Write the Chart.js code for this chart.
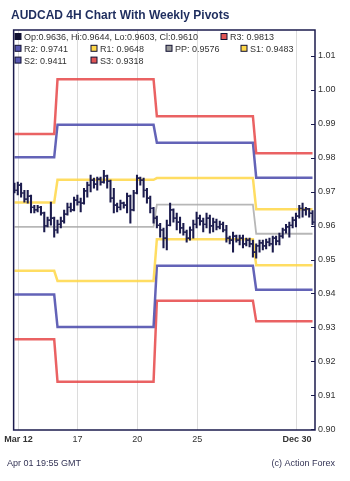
<!DOCTYPE html>
<html>
<head>
<meta charset="utf-8">
<script src="https://cdn.jsdelivr.net/npm/chart.js@4.4.1/dist/chart.umd.min.js"></script>
<style>
  html, body { margin: 0; padding: 0; background: #fff; }
  canvas { display: block; }
</style>
</head>
<body>
<canvas id="pivotChart" width="350" height="481"></canvas>
<script>
// AUDCAD 4H bars, oldest first
const opens = [
  0.9716, 0.9704, 0.9719, 0.9696, 0.9678, 0.9687, 0.9654, 0.9646, 0.9654, 0.9637,
  0.9599, 0.9616, 0.9622, 0.9587, 0.9604, 0.9613, 0.9634, 0.9654, 0.9646, 0.9675,
  0.9669, 0.9666, 0.9702, 0.9719, 0.9734, 0.9722, 0.9737, 0.9728, 0.9746, 0.9731,
  0.9681, 0.9660, 0.9654, 0.9666, 0.9660, 0.9687, 0.9646, 0.9696, 0.9740, 0.9734,
  0.9704, 0.9681, 0.9651, 0.9622, 0.9601, 0.9587, 0.9563, 0.9601, 0.9646, 0.9622,
  0.9610, 0.9593, 0.9581, 0.9563, 0.9587, 0.9604, 0.9622, 0.9613, 0.9604, 0.9622,
  0.9599, 0.9610, 0.9596, 0.9604, 0.9587, 0.9563, 0.9557, 0.9569, 0.9557, 0.9563,
  0.9546, 0.9557, 0.9546, 0.9522, 0.9540, 0.9549, 0.9540, 0.9551, 0.9546, 0.9563,
  0.9554, 0.9569, 0.9587, 0.9596, 0.9601, 0.9616, 0.9628, 0.9651, 0.9646, 0.9649,
  0.9636
];
const highs = [
  0.9725, 0.9728, 0.9725, 0.9704, 0.9704, 0.9690, 0.9660, 0.9660, 0.9657, 0.9640,
  0.9625, 0.9669, 0.9625, 0.9616, 0.9625, 0.9646, 0.9666, 0.9666, 0.9684, 0.9690,
  0.9681, 0.9710, 0.9728, 0.9749, 0.9740, 0.9743, 0.9743, 0.9763, 0.9749, 0.9734,
  0.9710, 0.9666, 0.9675, 0.9669, 0.9696, 0.9690, 0.9704, 0.9749, 0.9743, 0.9740,
  0.9710, 0.9687, 0.9654, 0.9628, 0.9607, 0.9593, 0.9616, 0.9666, 0.9649, 0.9637,
  0.9625, 0.9607, 0.9587, 0.9596, 0.9616, 0.9640, 0.9631, 0.9622, 0.9637, 0.9631,
  0.9622, 0.9619, 0.9613, 0.9610, 0.9601, 0.9569, 0.9581, 0.9572, 0.9572, 0.9572,
  0.9563, 0.9563, 0.9557, 0.9546, 0.9557, 0.9557, 0.9560, 0.9563, 0.9569, 0.9569,
  0.9578, 0.9593, 0.9604, 0.9610, 0.9625, 0.9637, 0.9660, 0.9666, 0.9654, 0.9651,
  0.9644
];
const lows = [
  0.9696, 0.9690, 0.9684, 0.9669, 0.9666, 0.9637, 0.9637, 0.9640, 0.9631, 0.9581,
  0.9596, 0.9601, 0.9566, 0.9578, 0.9593, 0.9607, 0.9631, 0.9640, 0.9643, 0.9660,
  0.9640, 0.9663, 0.9684, 0.9699, 0.9710, 0.9704, 0.9719, 0.9725, 0.9710, 0.9669,
  0.9637, 0.9640, 0.9646, 0.9651, 0.9637, 0.9607, 0.9643, 0.9693, 0.9719, 0.9684,
  0.9666, 0.9637, 0.9607, 0.9593, 0.9566, 0.9534, 0.9528, 0.9599, 0.9610, 0.9587,
  0.9578, 0.9572, 0.9551, 0.9557, 0.9563, 0.9593, 0.9601, 0.9581, 0.9593, 0.9578,
  0.9581, 0.9587, 0.9590, 0.9581, 0.9551, 0.9546, 0.9522, 0.9551, 0.9543, 0.9534,
  0.9540, 0.9537, 0.9507, 0.9504, 0.9522, 0.9528, 0.9531, 0.9540, 0.9522, 0.9543,
  0.9543, 0.9563, 0.9578, 0.9566, 0.9593, 0.9596, 0.9622, 0.9625, 0.9631, 0.9625,
  0.9603
];
const closes = [
  0.9704, 0.9719, 0.9696, 0.9678, 0.9687, 0.9654, 0.9646, 0.9654, 0.9637, 0.9599,
  0.9616, 0.9622, 0.9587, 0.9604, 0.9613, 0.9634, 0.9654, 0.9646, 0.9675, 0.9669,
  0.9666, 0.9702, 0.9719, 0.9734, 0.9722, 0.9737, 0.9728, 0.9746, 0.9731, 0.9681,
  0.9660, 0.9654, 0.9666, 0.9660, 0.9687, 0.9646, 0.9696, 0.9740, 0.9734, 0.9704,
  0.9681, 0.9651, 0.9622, 0.9601, 0.9587, 0.9563, 0.9601, 0.9646, 0.9622, 0.9610,
  0.9593, 0.9581, 0.9563, 0.9587, 0.9604, 0.9622, 0.9613, 0.9604, 0.9622, 0.9599,
  0.9610, 0.9596, 0.9604, 0.9587, 0.9563, 0.9557, 0.9569, 0.9557, 0.9563, 0.9546,
  0.9557, 0.9546, 0.9522, 0.9540, 0.9549, 0.9540, 0.9551, 0.9546, 0.9563, 0.9554,
  0.9569, 0.9587, 0.9596, 0.9601, 0.9616, 0.9628, 0.9651, 0.9646, 0.9649, 0.9637,
  0.9610
];

// weekly pivot levels, one value per week; weekStart = first bar of each week
const weekStart = [0, 13, 43, 73];
const r3 = [0.9870, 1.0031, 0.9922, 0.9813];
const r2 = [0.9801, 0.9897, 0.9844, 0.9741];
const r1 = [0.9668, 0.9735, 0.9740, 0.9648];
const pp = [0.9596, 0.9596, 0.9662, 0.9576];
const s1 = [0.9467, 0.9437, 0.9560, 0.9483];
const s2 = [0.9397, 0.9301, 0.9482, 0.9411];
const s3 = [0.9265, 0.9140, 0.9379, 0.9318];

const xTickPos = [1.2, 19, 37.1, 55.2, 85.3];
const xTickLabels = ['Mar 12', '17', '20', '25', 'Dec 30'];
const yTicks = [0.90, 0.91, 0.92, 0.93, 0.94, 0.95, 0.96, 0.97, 0.98, 0.99, 1.00, 1.01];

const navy = '#1b1b4d';
const red = 'rgba(230, 70, 72, 0.85)';
const blue = 'rgba(72, 72, 170, 0.85)';
const yellow = 'rgba(255, 215, 70, 0.85)';
const grey = 'rgba(165, 165, 165, 0.8)';

Chart.defaults.font.family = "'Liberation Sans', Arial, sans-serif";
Chart.defaults.font.size = 9;
Chart.defaults.color = '#333';

const idx = opens.map((_, i) => i);
function weekOf(i) {
  let w = 0;
  weekStart.forEach((s, k) => { if (i >= s) w = k; });
  return w;
}
function pivotLine(levels, color, width) {
  return {
    type: 'line',
    data: idx.map(i => ({ x: i, y: levels[weekOf(i)] })),
    borderColor: color,
    borderWidth: width,
    pointRadius: 0,
    tension: 0,
    fill: false,
    order: 2
  };
}
// open tick to the left of the bar, close tick to the right
function tick(values, offset) {
  return {
    type: 'scatter',
    data: idx.map(i => ({ x: i + offset, y: values[i] })),
    pointStyle: 'line',
    pointRadius: 0.9,
    pointHoverRadius: 0.9,
    borderColor: navy,
    borderWidth: 1.2,
    order: 0
  };
}

const decorations = {
  id: 'decorations',
  afterDraw(chart) {
    const { ctx, chartArea: a, scales } = chart;
    ctx.save();
    ctx.strokeStyle = navy;
    ctx.lineWidth = 1.5;
    ctx.strokeRect(a.left, a.top, a.right - a.left, a.bottom - a.top);
    ctx.lineWidth = 1;
    yTicks.forEach(v => {
      const y = Math.round(scales.y.getPixelForValue(v)) + 0.5;
      ctx.beginPath();
      ctx.moveTo(a.right - 4, y);
      ctx.lineTo(a.right, y);
      ctx.stroke();
    });

    // title
    ctx.fillStyle = '#1e2d5e';
    ctx.font = "bold 12px 'Liberation Sans', Arial, sans-serif";
    ctx.textBaseline = 'alphabetic';
    ctx.textAlign = 'left';
    ctx.fillText('AUDCAD 4H Chart With Weekly Pivots', 11, 18.5);

    // legend inside the plot box
    const last = opens.length - 1;
    const w = weekStart.length - 1;
    const items = [
      { x: 15, row: 0, c: '#111133', t: 'Op:' + opens[last].toFixed(4) + ', Hi:' + highs[last].toFixed(4) + ', Lo:' + lows[last].toFixed(4) + ', Cl:' + closes[last].toFixed(4) },
      { x: 221, row: 0, c: '#e05555', t: 'R3: ' + r3[w].toFixed(4) },
      { x: 15, row: 1, c: '#5858b0', t: 'R2: ' + r2[w].toFixed(4) },
      { x: 91, row: 1, c: '#ffd84a', t: 'R1: ' + r1[w].toFixed(4) },
      { x: 166, row: 1, c: '#999999', t: 'PP: ' + pp[w].toFixed(4) },
      { x: 241, row: 1, c: '#ffd84a', t: 'S1: ' + s1[w].toFixed(4) },
      { x: 15, row: 2, c: '#5858b0', t: 'S2: ' + s2[w].toFixed(4) },
      { x: 91, row: 2, c: '#e05555', t: 'S3: ' + s3[w].toFixed(4) }
    ];
    ctx.font = "9px 'Liberation Sans', Arial, sans-serif";
    items.forEach(it => {
      const base = 40 + it.row * 11.8;
      ctx.fillStyle = it.c;
      ctx.fillRect(it.x, base - 6.5, 6, 6);
      ctx.strokeStyle = '#111133';
      ctx.lineWidth = 1;
      ctx.strokeRect(it.x, base - 6.5, 6, 6);
      ctx.fillStyle = '#333';
      ctx.fillText(it.t, it.x + 9, base);
    });

    // footer
    ctx.fillStyle = '#333355';
    ctx.fillText('Apr 01 19:55 GMT', 7, 465.5);
    ctx.textAlign = 'right';
    ctx.fillText('(c) Action Forex', 335, 465.5);
    ctx.restore();
  }
};

const ctx = document.getElementById('pivotChart').getContext('2d');
const pivotChart = new Chart(ctx, {
  type: 'bar',
  data: {
    datasets: [
      {
        type: 'bar',
        data: idx.map(i => ({ x: i, y: [lows[i], highs[i]] })),
        backgroundColor: navy,
        borderWidth: 0,
        barThickness: 1.4,
        order: 0
      },
      tick(opens, -0.4),
      tick(closes, 0.4),
      pivotLine(r3, red, 2.5),
      pivotLine(r2, blue, 2.5),
      pivotLine(r1, yellow, 2.5),
      pivotLine(pp, grey, 1.8),
      pivotLine(s1, yellow, 2.5),
      pivotLine(s2, blue, 2.5),
      pivotLine(s3, red, 2.5)
    ]
  },
  options: {
    responsive: false,
    animation: false,
    events: [],
    layout: { padding: { left: 11, top: 30, right: 0, bottom: 0 } },
    plugins: {
      legend: { display: false },
      tooltip: { enabled: false }
    },
    scales: {
      x: {
        type: 'linear',
        min: -0.25,
        max: 90.75,
        offset: false,
        border: { display: false },
        grid: { color: '#dcdcdc', lineWidth: 1, drawTicks: false, offset: false },
        afterBuildTicks: s => { s.ticks = xTickPos.map(v => ({ value: v })); },
        afterFit: s => { s.height = 51; },
        ticks: {
          autoSkip: false,
          maxRotation: 0,
          padding: 4,
          color: '#333',
          font: c => ({ size: 9, weight: (c.index === 0 || c.index === xTickLabels.length - 1) ? 'bold' : 'normal' }),
          callback: (v, i) => xTickLabels[i]
        }
      },
      y: {
        position: 'right',
        min: 0.8998,
        max: 1.0176,
        border: { display: false },
        grid: { display: false, drawTicks: false },
        afterBuildTicks: s => { s.ticks = yTicks.map(v => ({ value: v })); },
        afterFit: s => { s.width = 35; },
        ticks: {
          padding: 3,
          color: '#333',
          callback: v => v.toFixed(2)
        }
      }
    }
  },
  plugins: [decorations]
});
</script>
</body>
</html>
